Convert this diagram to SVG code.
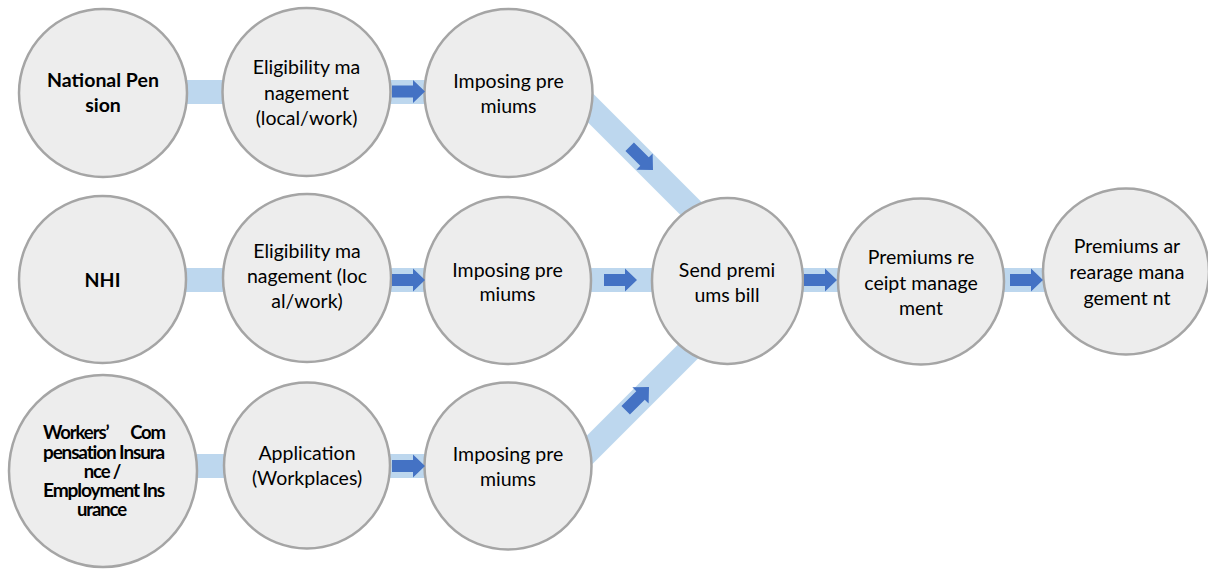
<svg xmlns="http://www.w3.org/2000/svg" width="1208" height="574" viewBox="0 0 1208 574">
  <defs>
    <style>
      .node { fill: #EDEDED; stroke: #A5A5A5; stroke-width: 2.5; }
      .band { stroke: #BDD7EE; stroke-width: 24; fill: none; }
      .arrow { fill: #4472C4; }
      .t { font-family: Lato, "Liberation Sans", sans-serif; font-size: 19.5px; fill: #000; text-anchor: middle; }
      .b { font-family: Lato, "Liberation Sans", sans-serif; font-size: 19.5px; font-weight: bold; fill: #000; text-anchor: middle; }
      .bc { font-family: Lato, "Liberation Sans", sans-serif; font-size: 18.5px; font-weight: bold; fill: #000; letter-spacing: -1.1px; }
    </style>
    <!-- block arrow, tip at the origin, pointing along +x -->
    <path id="blk" d="M -33,-6 H -12 V -11.5 L 0,0 L -12,11.5 V 6 H -33 Z"/>
  </defs>

  <!-- connectors: light bands underneath the nodes -->
  <g id="connectors">
    <line class="band" x1="103" y1="92" x2="508" y2="92"/>
    <line class="band" x1="103" y1="280" x2="727" y2="280"/>
    <line class="band" x1="103" y1="466" x2="508" y2="466"/>
    <line class="band" x1="727" y1="280" x2="1126" y2="280"/>
    <line class="band" x1="575" y1="92.5" x2="715" y2="232.5"/>
    <line class="band" x1="575" y1="464.5" x2="715" y2="324.5"/>
  </g>

  <!-- row 1 -->
  <g id="node-national-pension">
    <circle class="node" cx="103" cy="93" r="84"/>
    <text class="b"><tspan x="103" y="87">National Pen</tspan><tspan x="103" y="112">sion</tspan></text>
  </g>
  <g id="node-eligibility-1">
    <circle class="node" cx="306.5" cy="92" r="84"/>
    <text class="t"><tspan x="306.5" y="74">Eligibility ma</tspan><tspan x="306.5" y="99.5">nagement</tspan><tspan x="306.5" y="124.5">(local/work)</tspan></text>
  </g>
  <g id="node-imposing-1">
    <circle class="node" cx="508.5" cy="93" r="84"/>
    <text class="t"><tspan x="508.5" y="88">Imposing pre</tspan><tspan x="508.5" y="113">miums</tspan></text>
  </g>

  <!-- row 2 -->
  <g id="node-nhi">
    <circle class="node" cx="102.5" cy="279.5" r="83.5"/>
    <text class="b" x="102.5" y="287">NHI</text>
  </g>
  <g id="node-eligibility-2">
    <circle class="node" cx="307" cy="278" r="84"/>
    <text class="t"><tspan x="307" y="258">Eligibility ma</tspan><tspan x="307" y="283">nagement (loc</tspan><tspan x="307" y="308">al/work)</tspan></text>
  </g>
  <g id="node-imposing-2">
    <circle class="node" cx="507.5" cy="280.5" r="83.5"/>
    <text class="t"><tspan x="507.5" y="276.5">Imposing pre</tspan><tspan x="507.5" y="301">miums</tspan></text>
  </g>

  <!-- row 3 -->
  <g id="node-workers-comp">
    <ellipse class="node" cx="103" cy="471" rx="94" ry="96"/>
    <text class="bc" x="43" y="439">Workers’</text>
    <text class="bc" x="165" y="439" text-anchor="end">Com</text>
    <text class="bc" x="43" y="459" textLength="121" lengthAdjust="spacingAndGlyphs">pensation Insura</text>
    <text class="bc" x="102" y="478" text-anchor="middle">nce /</text>
    <text class="bc" x="43" y="497" textLength="121" lengthAdjust="spacingAndGlyphs">Employment Ins</text>
    <text class="bc" x="101.5" y="516" text-anchor="middle">urance</text>
  </g>
  <g id="node-application">
    <circle class="node" cx="307" cy="465.5" r="83"/>
    <text class="t"><tspan x="307" y="460">Application</tspan><tspan x="307" y="485">(Workplaces)</tspan></text>
  </g>
  <g id="node-imposing-3">
    <circle class="node" cx="508" cy="466" r="83.5"/>
    <text class="t"><tspan x="508" y="461">Imposing pre</tspan><tspan x="508" y="486">miums</tspan></text>
  </g>

  <!-- merged flow -->
  <g id="node-send-bill">
    <ellipse class="node" cx="727.5" cy="281" rx="75.5" ry="83"/>
    <text class="t"><tspan x="727" y="277">Send premi</tspan><tspan x="727" y="302">ums bill</tspan></text>
  </g>
  <g id="node-receipt">
    <circle class="node" cx="921" cy="281.5" r="83"/>
    <text class="t"><tspan x="921" y="264">Premiums re</tspan><tspan x="921" y="289.5">ceipt manage</tspan><tspan x="921" y="315">ment</tspan></text>
  </g>
  <g id="node-arrearage">
    <circle class="node" cx="1126" cy="271.5" r="83"/>
    <text class="t"><tspan x="1127" y="253">Premiums ar</tspan><tspan x="1127" y="279">rearage mana</tspan><tspan x="1127" y="305">gement nt</tspan></text>
  </g>

  <!-- direction arrows on the bands -->
  <g id="arrows" class="arrow">
    <use href="#blk" transform="translate(425,91.5)"/>
    <use href="#blk" transform="translate(425,280)"/>
    <use href="#blk" transform="translate(637,280)"/>
    <use href="#blk" transform="translate(425,466)"/>
    <use href="#blk" transform="translate(837,280)"/>
    <use href="#blk" transform="translate(1043,280)"/>
    <use href="#blk" transform="translate(653,170) rotate(45)"/>
    <use href="#blk" transform="translate(649,387) rotate(-45)"/>
  </g>
</svg>
